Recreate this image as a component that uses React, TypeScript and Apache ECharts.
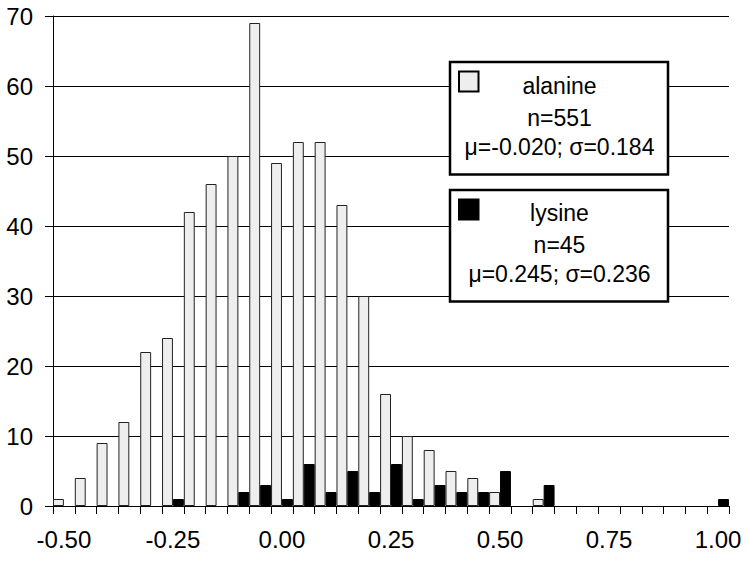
import React, { useEffect, useRef } from 'react';
import * as echarts from 'echarts';

const categories = [
  '-0.50', '-0.45', '-0.40', '-0.35', '-0.30', '-0.25', '-0.20', '-0.15', '-0.10', '-0.05',
  '0.00', '0.05', '0.10', '0.15', '0.20', '0.25', '0.30', '0.35', '0.40', '0.45',
  '0.50', '0.55', '0.60', '0.65', '0.70', '0.75', '0.80', '0.85', '0.90', '0.95', '1.00',
];
const alanine = [1, 4, 9, 12, 22, 24, 42, 46, 50, 69, 49, 52, 52, 43, 30, 16, 10, 8, 5, 4, 2, 0, 1, 0, 0, 0, 0, 0, 0, 0, 0];
const lysine = [0, 0, 0, 0, 0, 1, 0, 0, 2, 3, 1, 6, 2, 5, 2, 6, 1, 3, 2, 2, 5, 0, 3, 0, 0, 0, 0, 0, 0, 0, 1];
const yTicks = { min: 0, max: 70, interval: 10 };
const alanineLegend = ['alanine', 'n=551', 'μ=-0.020; σ=0.184'];
const lysineLegend = ['lysine', 'n=45', 'μ=0.245; σ=0.236'];

const FONT = '"Liberation Sans", Arial, sans-serif';

export default function App() {
  const ref = useRef<HTMLDivElement>(null);
  useEffect(() => {
    if (!ref.current) return;
    const chart = echarts.init(ref.current, null, { renderer: 'svg' });
    const toData = (arr: number[]) => arr.map((v) => (v === 0 ? '-' : v));
    const legendBox = (top: number, h: number, fill: string, lines: string[], centers: number[]) => ({
      type: 'group',
      children: [
        {
          type: 'rect',
          shape: { x: 450, y: top, width: 218, height: h },
          style: { fill: '#fff', stroke: '#000', lineWidth: 2.5 },
          z: 100,
        },
        {
          type: 'rect',
          shape: { x: 459, y: top + 9.5, width: 19.5, height: 20 },
          style: { fill, stroke: '#000', lineWidth: 2 },
          z: 101,
        },
        ...lines.map((t, i) => ({
          type: 'text',
          x: 559.5,
          y: centers[i],
          style: {
            text: t,
            fill: '#000',
            font: `23px ${FONT}`,
            textAlign: 'center',
            textVerticalAlign: 'middle',
          },
          z: 101,
        })),
      ],
    });
    chart.setOption({
      animation: false,
      backgroundColor: '#fff',
      grid: { left: 53, right: 19, top: 16, bottom: 56, containLabel: false },
      xAxis: {
        type: 'category',
        data: categories,
        boundaryGap: true,
        axisLine: { show: true, lineStyle: { color: '#000', width: 1 } },
        axisTick: { show: true, interval: 0, length: 8, lineStyle: { color: '#000', width: 1 } },
        axisLabel: {
          interval: 4,
          margin: 21,
          color: '#000',
          fontSize: 24,
          fontFamily: FONT,
        },
        splitLine: { show: false },
      },
      yAxis: {
        type: 'value',
        min: yTicks.min,
        max: yTicks.max,
        interval: yTicks.interval,
        axisLine: { show: true, lineStyle: { color: '#000', width: 1 } },
        axisTick: { show: true, length: 8, lineStyle: { color: '#000', width: 1 } },
        axisLabel: { margin: 20, color: '#000', fontSize: 24, fontFamily: FONT },
        splitLine: { show: true, lineStyle: { color: '#000', width: 1 } },
      },
      series: [
        {
          name: 'alanine',
          type: 'bar',
          data: toData(alanine),
          barGap: '0%',
          barCategoryGap: '0%',
          itemStyle: { color: '#eeeeee', borderColor: '#222', borderWidth: 1 },
        },
        {
          name: 'lysine',
          type: 'bar',
          data: toData(lysine),
          barGap: '0%',
          barCategoryGap: '0%',
          itemStyle: { color: '#000', borderColor: '#000', borderWidth: 1 },
        },
      ],
      graphic: [
        legendBox(62, 112.5, '#eeeeee', alanineLegend, [86.3, 118.2, 147.2]),
        legendBox(190, 111.5, '#000', lysineLegend, [213.3, 245.2, 274.2]),
      ],
    });
    return () => chart.dispose();
  }, []);
  return (
    <div
      ref={ref}
      style={{ position: 'fixed', left: 0, top: 0, width: 748, height: 562 }}
    />
  );
}
